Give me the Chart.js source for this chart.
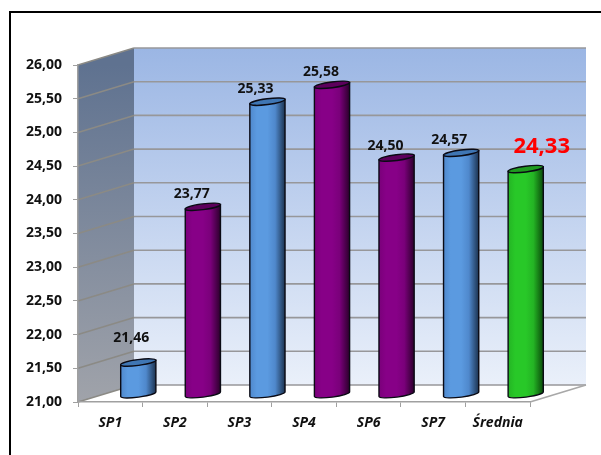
<!DOCTYPE html>
<html>
<head>
<meta charset="utf-8">
<style>html,body{margin:0;padding:0;background:#fff}canvas{display:block}</style>
<script src="https://cdn.jsdelivr.net/npm/chart.js@4"></script>
</head>
<body>
<canvas id="c" width="601" height="455"></canvas>
<script>
const categories = ["SP1","SP2","SP3","SP4","SP6","SP7","Średnia"];
const values = [21.46,23.77,25.33,25.58,24.50,24.57,24.33];
const barColors = ["#5b9ae0","#870087","#5b9ae0","#870087","#870087","#5b9ae0","#28c828"];
const labelColors = ["#111","#111","#111","#111","#111","#111","#ff0000"];
const labelSizes = [14,14,14,14,14,14,22];
const labelShiftX = [-7,-11,-12,-11,-11,-12,16];
const labelShiftY = [-24,-13,-13,-13,-12,-13,-22];

const DEPTH_X = 56, DEPTH_Y = -17;
const shades = {
  "#5b9ae0": {l:"#4f88cc", m:"#5b9ae0", d:"#1c3350", t:"#3f76b4"},
  "#870087": {l:"#7a007a", m:"#870087", d:"#2c002c", t:"#5c005c"},
  "#28c828": {l:"#24b424", m:"#28c828", d:"#0a4a0a", t:"#1f9a1f"}
};

// Bars drawn by the library's own element, as tilted cylinders standing mid-depth
const B = Chart.BarElement.prototype;
B.draw = function(ctx){
  const p = this.getProps(["x","y","base","width"], false);
  const s = shades[this.options.backgroundColor] || shades["#5b9ae0"];
  const w = p.width, cx = p.x + DEPTH_X/2;
  const top = p.y + DEPTH_Y/2, bot = p.base + DEPTH_Y/2 + 1.2;
  const rot = Math.atan2(-4.6, w), rx = (w/2)/Math.cos(rot), ry = 2.9;
  const tan = Math.tan(rot)*w/2;
  const g = ctx.createLinearGradient(cx-w/2,0,cx+w/2,0);
  g.addColorStop(0,s.l); g.addColorStop(.2,s.m); g.addColorStop(.5,s.m); g.addColorStop(.72,s.l); g.addColorStop(1,s.d);
  ctx.save();
  ctx.lineWidth = 1.4; ctx.strokeStyle = "#0a0a14"; ctx.fillStyle = g;
  ctx.beginPath();
  ctx.moveTo(cx-w/2, top - tan);
  ctx.lineTo(cx-w/2, bot - tan);
  ctx.ellipse(cx, bot, rx, ry, rot, Math.PI, 0, true);
  ctx.lineTo(cx+w/2, top + tan);
  ctx.closePath();
  ctx.fill(); ctx.stroke();
  ctx.beginPath();
  ctx.ellipse(cx, top, rx, ry, rot, 0, Math.PI*2);
  ctx.fillStyle = s.t; ctx.fill(); ctx.stroke();
  ctx.restore();
};

const room = {
  id:"room",
  beforeDraw(chart){
    const {ctx, chartArea:a, scales:{y}} = chart;
    const L=a.left,R=a.right,T=a.top,Bo=a.bottom;
    ctx.save();
    ctx.fillStyle="#fff"; ctx.fillRect(0,0,chart.width,chart.height);
    // outer frame
    ctx.strokeStyle="#000"; ctx.lineWidth=2;
    ctx.beginPath(); ctx.moveTo(10,455); ctx.lineTo(10,12); ctx.lineTo(601,12); ctx.stroke();
    // back wall
    let g=ctx.createLinearGradient(0,T+DEPTH_Y,0,Bo+DEPTH_Y);
    g.addColorStop(0,"#9bb6e4"); g.addColorStop(1,"#eaf0fa");
    ctx.fillStyle=g;
    ctx.fillRect(L+DEPTH_X,T+DEPTH_Y,R-L,Bo-T);
    // side wall
    g=ctx.createLinearGradient(0,T,0,Bo);
    g.addColorStop(0,"#5f7290"); g.addColorStop(1,"#a0a3aa");
    ctx.fillStyle=g;
    ctx.beginPath(); ctx.moveTo(L,T); ctx.lineTo(L+DEPTH_X,T+DEPTH_Y); ctx.lineTo(L+DEPTH_X,Bo+DEPTH_Y); ctx.lineTo(L,Bo); ctx.closePath(); ctx.fill();
    // floor
    ctx.fillStyle="#fff";
    ctx.beginPath(); ctx.moveTo(L,Bo); ctx.lineTo(R,Bo); ctx.lineTo(R+DEPTH_X,Bo+DEPTH_Y); ctx.lineTo(L+DEPTH_X,Bo+DEPTH_Y); ctx.closePath(); ctx.fill();
    // wall grid lines
    ctx.lineWidth=1.6;
    y.ticks.forEach(t=>{
      const py=y.getPixelForValue(t.value);
      ctx.strokeStyle="#97979a";
      ctx.beginPath(); ctx.moveTo(L+DEPTH_X,py+DEPTH_Y); ctx.lineTo(R+DEPTH_X,py+DEPTH_Y); ctx.stroke();
      ctx.strokeStyle="#8b8a85";
      ctx.beginPath(); ctx.moveTo(L,py); ctx.lineTo(L+DEPTH_X,py+DEPTH_Y); ctx.stroke();
    });
    ctx.strokeStyle="#a8a8a8";
    ctx.beginPath(); ctx.moveTo(R,Bo); ctx.lineTo(R+DEPTH_X,Bo+DEPTH_Y); ctx.stroke();
    ctx.restore();
  },
  afterDatasetsDraw(chart){
    const {ctx} = chart, meta = chart.getDatasetMeta(0);
    ctx.save();
    ctx.textAlign="center"; ctx.textBaseline="middle";
    meta.data.forEach((bar,i)=>{
      ctx.font=`bold ${labelSizes[i]}px "Open Sans"`;
      ctx.fillStyle=labelColors[i];
      const cx=bar.x+DEPTH_X/2, top=bar.y+DEPTH_Y/2;
      ctx.fillText(values[i].toFixed(2).replace(".",","), cx+labelShiftX[i], top+labelShiftY[i]);
    });
    ctx.restore();
  }
};

new Chart(document.getElementById("c"),{
  type:"bar",
  plugins:[room],
  data:{labels:categories,datasets:[{data:values,base:21,backgroundColor:barColors,clip:false,barPercentage:0.545,categoryPercentage:1}]},
  options:{
    responsive:false,animation:false,
    layout:{padding:{top:65,right:71,left:0,bottom:0}},
    plugins:{legend:{display:false},tooltip:{enabled:false},title:{display:false}},
    scales:{
      y:{min:21,max:26,afterFit(s){s.width=78;},
        ticks:{stepSize:0.5,padding:11,color:"#111",font:{family:"Open Sans",size:14,weight:"bold"},callback:v=>v.toFixed(2).replace(".",",")},
        grid:{drawOnChartArea:false,drawTicks:true,tickLength:5,color:"#a0a0a0"},
        border:{color:"#a0a0a0",width:1.5}},
      x:{afterFit(s){s.height=53;},
        ticks:{padding:8,color:"#111",maxRotation:0,font:{family:"Open Sans",size:14,weight:"bold",style:"italic"}},
        grid:{drawOnChartArea:false,drawTicks:true,tickLength:5,color:"#a0a0a0",offset:true},
        border:{color:"#a0a0a0",width:1.5}}
    }
  }
});
</script>
</body>
</html>
